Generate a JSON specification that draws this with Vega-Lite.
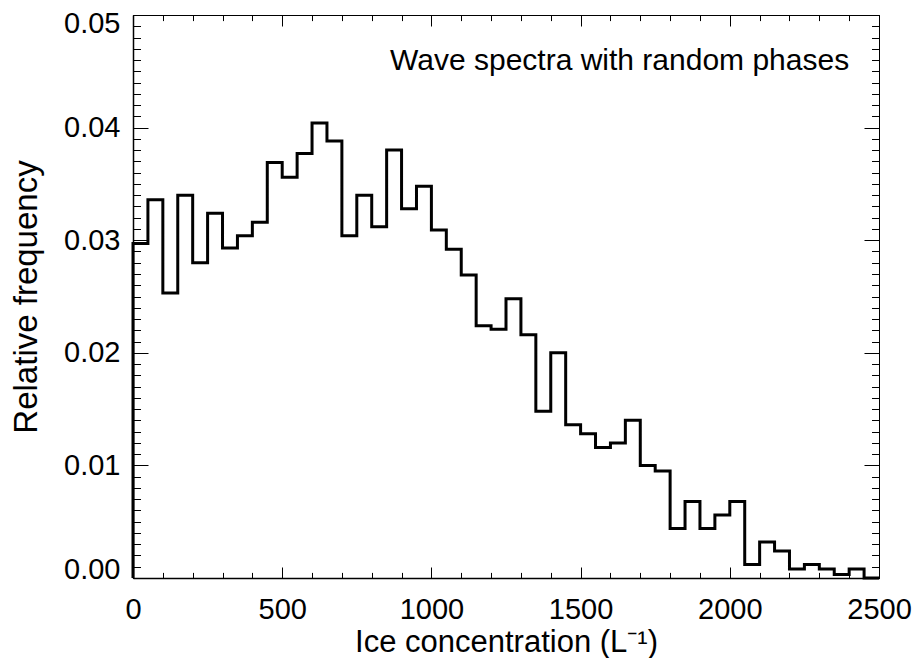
{
  "$schema": "https://vega.github.io/schema/vega-lite/v6.json",
  "width": 746,
  "height": 563,
  "autosize": "none",
  "padding": {"left": 133, "top": 15, "right": 38, "bottom": 80},
  "background": "white",
  "config": {
    "view": {"stroke": null},
    "axis": {
      "labelFont": "Liberation Sans",
      "titleFont": "Liberation Sans",
      "labelFontSize": 29,
      "titleFontSize": 31,
      "titleFontWeight": "normal",
      "labelColor": "black",
      "titleColor": "black",
      "tickColor": "black",
      "domainColor": "black",
      "grid": false,
      "tickWidth": 1,
      "domainWidth": 1.5,
      "labelFlush": false
    }
  },
  "data": {
    "values": [
      {"i": 0, "x": 0, "f": 0},
      {"i": 1, "x": 0, "f": 0.0297},
      {"i": 2, "x": 50, "f": 0.0336},
      {"i": 3, "x": 100, "f": 0.0253},
      {"i": 4, "x": 150, "f": 0.0340},
      {"i": 5, "x": 200, "f": 0.0280},
      {"i": 6, "x": 250, "f": 0.0324},
      {"i": 7, "x": 300, "f": 0.0293},
      {"i": 8, "x": 350, "f": 0.0304},
      {"i": 9, "x": 400, "f": 0.0316},
      {"i": 10, "x": 450, "f": 0.0369},
      {"i": 11, "x": 500, "f": 0.0356},
      {"i": 12, "x": 550, "f": 0.0377},
      {"i": 13, "x": 600, "f": 0.0404},
      {"i": 14, "x": 650, "f": 0.0388},
      {"i": 15, "x": 700, "f": 0.0304},
      {"i": 16, "x": 750, "f": 0.0340},
      {"i": 17, "x": 800, "f": 0.0312},
      {"i": 18, "x": 850, "f": 0.0380},
      {"i": 19, "x": 900, "f": 0.0328},
      {"i": 20, "x": 950, "f": 0.0348},
      {"i": 21, "x": 1000, "f": 0.0309},
      {"i": 22, "x": 1050, "f": 0.0292},
      {"i": 23, "x": 1100, "f": 0.0269},
      {"i": 24, "x": 1150, "f": 0.0224},
      {"i": 25, "x": 1200, "f": 0.0221},
      {"i": 26, "x": 1250, "f": 0.0248},
      {"i": 27, "x": 1300, "f": 0.0216},
      {"i": 28, "x": 1350, "f": 0.0148},
      {"i": 29, "x": 1400, "f": 0.0200},
      {"i": 30, "x": 1450, "f": 0.0136},
      {"i": 31, "x": 1500, "f": 0.0128},
      {"i": 32, "x": 1550, "f": 0.0116},
      {"i": 33, "x": 1600, "f": 0.0120},
      {"i": 34, "x": 1650, "f": 0.0140},
      {"i": 35, "x": 1700, "f": 0.0100},
      {"i": 36, "x": 1750, "f": 0.0095},
      {"i": 37, "x": 1800, "f": 0.0044},
      {"i": 38, "x": 1850, "f": 0.0068},
      {"i": 39, "x": 1900, "f": 0.0044},
      {"i": 40, "x": 1950, "f": 0.0056},
      {"i": 41, "x": 2000, "f": 0.0068},
      {"i": 42, "x": 2050, "f": 0.0012},
      {"i": 43, "x": 2100, "f": 0.0032},
      {"i": 44, "x": 2150, "f": 0.0024},
      {"i": 45, "x": 2200, "f": 0.0008},
      {"i": 46, "x": 2250, "f": 0.0012},
      {"i": 47, "x": 2300, "f": 0.0008},
      {"i": 48, "x": 2350, "f": 0.0003},
      {"i": 49, "x": 2400, "f": 0.0008},
      {"i": 50, "x": 2450, "f": 0},
      {"i": 51, "x": 2500, "f": 0}
    ]
  },
  "layer": [
    {
      "mark": {"type": "line", "interpolate": "step-after", "color": "black", "strokeWidth": 3, "strokeJoin": "miter", "clip": false},
      "encoding": {
        "x": {
          "field": "x", "type": "quantitative",
          "scale": {"domain": [0, 2500], "nice": false, "zero": false},
          "axis": {
            "orient": "bottom",
            "values": [0, 500, 1000, 1500, 2000, 2500],
            "format": "d",
            "tickSize": -11,
            "labelPadding": 28,
            "title": "Ice concentration (L⁻¹)",
            "titlePadding": 3
          }
        },
        "y": {
          "field": "f", "type": "quantitative",
          "scale": {"domain": [0, 0.05], "nice": false, "zero": false},
          "axis": {
            "orient": "left",
            "values": [0, 0.01, 0.02, 0.03, 0.04, 0.05],
            "format": ".2f",
            "tickSize": -15,
            "labelPadding": 28,
            "labelOffset": {"condition": [{"test": "datum.value < 0.001", "value": -9}, {"test": "datum.value > 0.049", "value": 8}], "value": 0},
            "title": "Relative frequency",
            "titleFontSize": 33,
            "titlePadding": 20
          }
        },
        "order": {"field": "i", "type": "quantitative"}
      }
    },
    {
      "mark": {"type": "line", "opacity": 0},
      "encoding": {
        "x": {
          "field": "x", "type": "quantitative",
          "axis": {
            "orient": "bottom",
            "values": [0, 100, 200, 300, 400, 500, 600, 700, 800, 900, 1000, 1100, 1200, 1300, 1400, 1500, 1600, 1700, 1800, 1900, 2000, 2100, 2200, 2300, 2400, 2500],
            "tickSize": -5.6, "labels": false, "domain": false, "title": null
          }
        },
        "y": {
          "field": "f", "type": "quantitative",
          "axis": {
            "orient": "left",
            "values": [0, 0.001, 0.002, 0.003, 0.004, 0.005, 0.006, 0.007, 0.008, 0.009, 0.01, 0.011, 0.012, 0.013, 0.014, 0.015, 0.016, 0.017, 0.018, 0.019, 0.02, 0.021, 0.022, 0.023, 0.024, 0.025, 0.026, 0.027, 0.028, 0.029, 0.03, 0.031, 0.032, 0.033, 0.034, 0.035, 0.036, 0.037, 0.038, 0.039, 0.04, 0.041, 0.042, 0.043, 0.044, 0.045, 0.046, 0.047, 0.048, 0.049, 0.05],
            "tickSize": -7.5, "labels": false, "domain": false, "title": null
          }
        }
      }
    },
    {
      "mark": {"type": "line", "opacity": 0},
      "encoding": {
        "x": {
          "field": "x", "type": "quantitative",
          "axis": {
            "orient": "top",
            "values": [0, 500, 1000, 1500, 2000, 2500],
            "tickSize": -11, "labels": false, "domain": true, "domainWidth": 1, "title": null
          }
        },
        "y": {
          "field": "f", "type": "quantitative",
          "axis": {
            "orient": "right",
            "values": [0, 0.01, 0.02, 0.03, 0.04, 0.05],
            "tickSize": -15, "labels": false, "domain": true, "domainWidth": 1, "title": null
          }
        }
      }
    },
    {
      "mark": {"type": "line", "opacity": 0},
      "encoding": {
        "x": {
          "field": "x", "type": "quantitative",
          "axis": {
            "orient": "top",
            "values": [0, 100, 200, 300, 400, 500, 600, 700, 800, 900, 1000, 1100, 1200, 1300, 1400, 1500, 1600, 1700, 1800, 1900, 2000, 2100, 2200, 2300, 2400, 2500],
            "tickSize": -5.6, "labels": false, "domain": false, "title": null
          }
        },
        "y": {
          "field": "f", "type": "quantitative",
          "axis": {
            "orient": "right",
            "values": [0, 0.001, 0.002, 0.003, 0.004, 0.005, 0.006, 0.007, 0.008, 0.009, 0.01, 0.011, 0.012, 0.013, 0.014, 0.015, 0.016, 0.017, 0.018, 0.019, 0.02, 0.021, 0.022, 0.023, 0.024, 0.025, 0.026, 0.027, 0.028, 0.029, 0.03, 0.031, 0.032, 0.033, 0.034, 0.035, 0.036, 0.037, 0.038, 0.039, 0.04, 0.041, 0.042, 0.043, 0.044, 0.045, 0.046, 0.047, 0.048, 0.049, 0.05],
            "tickSize": -7.5, "labels": false, "domain": false, "title": null
          }
        }
      }
    },
    {
      "data": {"values": [{"label": "Wave spectra with random phases"}]},
      "mark": {"type": "text", "align": "right", "baseline": "alphabetic", "font": "Liberation Sans", "fontSize": 30, "color": "black"},
      "encoding": {
        "x": {"datum": 2400, "type": "quantitative", "axis": null},
        "y": {"datum": 0.0451, "type": "quantitative", "axis": null},
        "text": {"field": "label"}
      }
    }
  ],
  "resolve": {"axis": {"x": "independent", "y": "independent"}}
}
